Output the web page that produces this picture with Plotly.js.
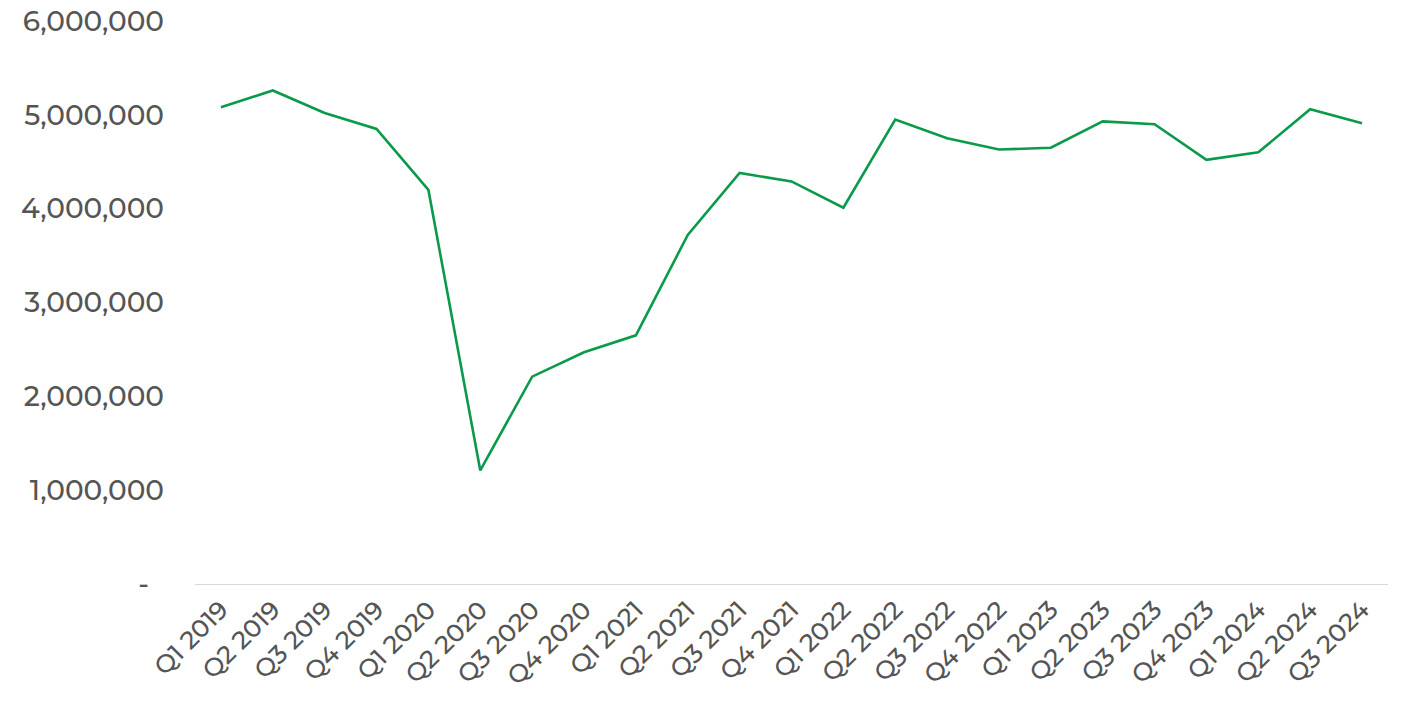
<!DOCTYPE html>
<html>
<head>
<meta charset="utf-8">
<script src="https://cdn.plot.ly/plotly-3.0.1.min.js"></script>
<style>html,body{margin:0;padding:0;background:#fff;}#chart{width:1402px;height:720px;}</style>
</head>
<body>
<div id="chart"></div>
<script>
const categories = ["Q1 2019","Q2 2019","Q3 2019","Q4 2019","Q1 2020","Q2 2020","Q3 2020","Q4 2020","Q1 2021","Q2 2021","Q3 2021","Q4 2021","Q1 2022","Q2 2022","Q3 2022","Q4 2022","Q1 2023","Q2 2023","Q3 2023","Q4 2023","Q1 2024","Q2 2024","Q3 2024"];
const values = [5080000,5260000,5020000,4850000,4200000,1210000,2210000,2470000,2650000,3720000,4380000,4290000,4010000,4950000,4750000,4630000,4650000,4930000,4900000,4520000,4600000,5060000,4910000];
const yTickVals = [0,1000000,2000000,3000000,4000000,5000000,6000000];
const yTickText = ["-\u00a0\u00a0","1,000,000","2,000,000","3,000,000","4,000,000","5,000,000","6,000,000"];

const trace = {
  type: "scatter",
  mode: "lines",
  x: categories,
  y: values,
  line: {color: "#0a9a4a", width: 2.6},
  hoverinfo: "x+y"
};

const layout = {
  width: 1402,
  height: 720,
  margin: {l: 195, r: 14, t: 21, b: 136},
  paper_bgcolor: "#ffffff",
  plot_bgcolor: "#ffffff",
  showlegend: false,
  font: {family: "Montserrat, 'Noto Sans', Lato, sans-serif", color: "#555555"},
  xaxis: {
    type: "category",
    range: [-0.5, 22.5],
    showgrid: false,
    zeroline: false,
    showline: true,
    linecolor: "#d9d9d9",
    linewidth: 1,
    ticks: "",
    tickangle: -45,
    tickfont: {size: 25, color: "#555555", weight: 500},
    fixedrange: true
  },
  yaxis: {
    range: [0, 6000000],
    tickvals: yTickVals,
    ticktext: yTickText,
    showgrid: false,
    zeroline: false,
    showline: false,
    ticks: "",
    ticklabelstandoff: 30,
    tickfont: {size: 28, color: "#555555", weight: 500},
    fixedrange: true
  }
};

Plotly.newPlot("chart", [trace], layout, {displayModeBar: false, staticPlot: true});
</script>
</body>
</html>
